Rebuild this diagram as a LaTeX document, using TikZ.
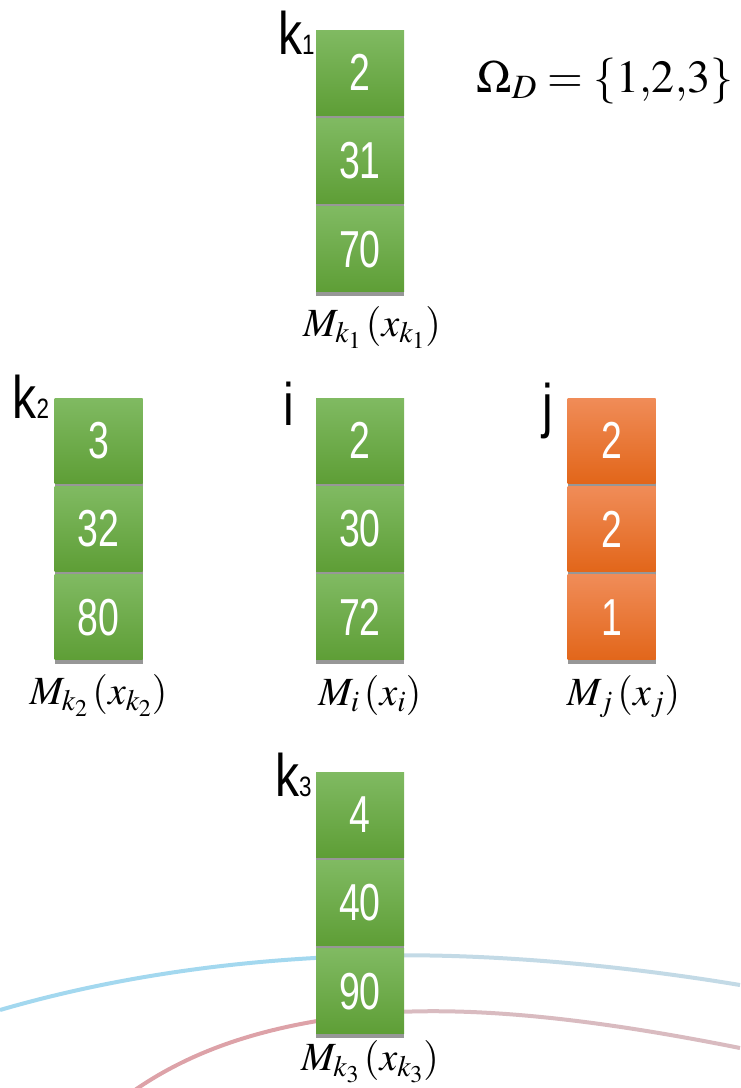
\documentclass[tikz,border=0pt]{standalone}
\usepackage{mathptmx}
\usepackage[no-math]{fontspec}
\newfontfamily\cellfont[FakeStretch=0.72]{Liberation Sans}
\newfontfamily\tagfont[FakeStretch=0.8]{Liberation Sans}
\usetikzlibrary{positioning,shadows}
\definecolor{CellGreenTop}{HTML}{80BA62}
\definecolor{CellGreenBot}{HTML}{5E9E36}
\definecolor{CellOrangeTop}{HTML}{F08C58}
\definecolor{CellOrangeBot}{HTML}{E2661A}
\definecolor{ArcBlueL}{HTML}{A3D8EF}
\definecolor{ArcBlueR}{HTML}{C3DAE6}
\definecolor{ArcRedL}{HTML}{DDA2A8}
\definecolor{ArcRedR}{HTML}{D9BBC0}

\begin{document}
\begin{tikzpicture}[x=1pt,y=-1pt,node distance=3pt]
\tikzset{cell/.style={minimum width=88pt,minimum height=85pt,inner sep=0pt,text=white,font=\cellfont\fontsize{52}{52}\selectfont,drop shadow={shadow xshift=0pt,shadow yshift=-4pt,fill=black!45,opacity=.9}},
gcell/.style={cell,top color=CellGreenTop,bottom color=CellGreenBot},
ocell/.style={cell,top color=CellOrangeTop,bottom color=CellOrangeBot},
tag/.style={font=\tagfont\fontsize{60}{60}\selectfont,inner sep=0pt,anchor=base east},
fn/.style={font=\fontsize{40}{48}\selectfont,inner sep=0pt,anchor=base},
arc/.style={line width=4pt}}
\newcommand\tagsub[1]{{\fontsize{28}{28}\selectfont#1}}
\useasboundingbox (0,0) rectangle (740,1088);
% arcs behind the last column
\draw[arc,ArcBlueL] (0,1010) .. controls (110,978) and (230,960) .. (360,956);
\draw[arc,ArcBlueR] (360,956) .. controls (480,952) and (620,965) .. (740,985);
\draw[arc,ArcRedL] (135,1090) .. controls (200,1045) and (280,1022) .. (380,1013);
\draw[arc,ArcRedR] (380,1013) .. controls (480,1006) and (600,1020) .. (740,1048);
% k1
\node[gcell] (k1a) at (360,72.5) {2};
\node[gcell,below=of k1a] (k1b) {31};
\node[gcell,below=of k1b] (k1c) {70};
\node[tag] (k1) at ([xshift=-1pt,yshift=-25pt]k1a.north west) {k\tagsub{1}};
\node[fn] (mk1) at ([xshift=12pt,yshift=-44pt]k1c.south) {$M_{k_1}\,(x_{k_1})$};
% k2
\node[gcell] (k2a) at (98.5,440.5) {3};
\node[gcell,below=of k2a] (k2b) {32};
\node[gcell,below=of k2b] (k2c) {80};
\node[tag] (k2) at ([xshift=-5pt,yshift=-21pt]k2a.north west) {k\tagsub{2}};
\node[fn] (mk2) at ([xshift=0pt,yshift=-44pt]k2c.south) {$M_{k_2}\,(x_{k_2})$};
% i
\node[gcell] (ia) at (360,440.5) {2};
\node[gcell,below=of ia] (ib) {30};
\node[gcell,below=of ib] (ic) {72};
\node[tag] (i) at ([xshift=-21pt,yshift=-28pt]ia.north west) {i};
\node[fn] (mi) at ([xshift=10pt,yshift=-45pt]ic.south) {$M_i\,(x_i)$};
% j
\node[ocell] (ja) at (611.5,440.5) {2};
\node[ocell,below=of ja] (jb) {2};
\node[ocell,below=of jb] (jc) {1};
\node[tag] (j) at ([xshift=-14pt,yshift=-29pt]ja.north west) {j};
\node[fn] (mj) at ([xshift=12pt,yshift=-45pt]jc.south) {$M_j\,(x_j)$};
% k3
\node[gcell] (k3a) at (360,814.5) {4};
\node[gcell,below=of k3a] (k3b) {40};
\node[gcell,below=of k3b] (k3c) {90};
\node[tag] (k3) at ([xshift=-4pt,yshift=-25pt]k3a.north west) {k\tagsub{3}};
\node[fn] (mk3) at ([xshift=10pt,yshift=-36pt]k3c.south) {$M_{k_3}\,(x_{k_3})$};
% domain
\node[fn,font=\fontsize{46}{56}\selectfont] (om) at (605,92) {$\Omega_D=\{1{,}2{,}3\}$};
\end{tikzpicture}
\end{document}
